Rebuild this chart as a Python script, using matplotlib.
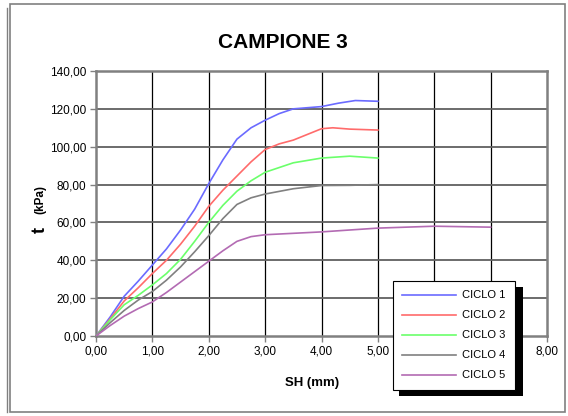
import matplotlib
matplotlib.use("Agg")
import matplotlib.pyplot as plt
from matplotlib.patches import Rectangle
from matplotlib.lines import Line2D
from matplotlib.ticker import FuncFormatter, MultipleLocator

plt.rcParams['font.family'] = ['Liberation Sans', 'DejaVu Sans']

# ---- data ----
x1 = [0, 0.25, 0.5, 0.75, 1.0, 1.25, 1.5, 1.75, 2.0, 2.25, 2.5, 2.75, 3.0, 3.25, 3.5, 4.0, 4.3, 4.6, 5.0]
y1 = [0, 10, 21, 29, 37.5, 46, 56, 67, 80.5, 93, 104, 110, 114, 117.5, 120, 121.2, 123, 124.4, 124]
x2 = [0, 0.25, 0.5, 0.75, 1.0, 1.25, 1.5, 1.75, 2.0, 2.25, 2.5, 2.75, 3.0, 3.25, 3.5, 3.75, 4.0, 4.2, 4.5, 5.0]
y2 = [0, 9, 18.5, 25.5, 33, 40, 48.5, 58, 68.5, 77, 84.5, 92, 98.5, 101.5, 103.5, 106.5, 109.5, 110, 109.3, 108.8]
x3 = [0, 0.25, 0.5, 0.75, 1.0, 1.25, 1.5, 1.75, 2.0, 2.25, 2.5, 2.75, 3.0, 3.5, 4.0, 4.5, 5.0]
y3 = [0, 8.5, 16.5, 21.5, 27, 33, 40.5, 50, 60, 69, 76.5, 82, 86.5, 91.5, 94, 95, 94]
x4 = [0, 0.25, 0.5, 0.75, 1.0, 1.25, 1.5, 1.75, 2.0, 2.25, 2.5, 2.75, 3.0, 3.5, 4.0, 4.5, 5.0]
y4 = [0, 7, 13.5, 19, 23.5, 29.5, 36.5, 44.5, 53, 62, 69.5, 73, 75, 77.8, 79.5, 79.6, 80]
x5 = [0, 0.25, 0.5, 0.75, 1.0, 1.25, 1.5, 1.75, 2.0, 2.25, 2.5, 2.75, 3.0, 4.0, 5.0, 6.0, 7.0]
y5 = [0, 5.5, 10.5, 14.5, 18, 23, 28.5, 34, 39.5, 45, 50, 52.5, 53.5, 55, 57, 58, 57.5]
series_labels = ["CICLO 1", "CICLO 2", "CICLO 3", "CICLO 4", "CICLO 5"]
series_colors = ["#6b6bff", "#ff6b6b", "#6bff6b", "#808080", "#b36bb3"]

fig = plt.figure(figsize=(5.68, 4.16), dpi=100)
W, H = 568, 416

# outer frame
fig.patches.append(Rectangle((10 / W, 4 / H), 555 / W, 408 / H, transform=fig.transFigure,
                             fill=False, edgecolor="#808080", lw=1.2))
fig.lines.append(Line2D([7 / W, 7 / W], [4 / H, 408 / H], transform=fig.transFigure,
                        color="#808080", lw=1.0))

ax = fig.add_axes([96 / W, 1 - 336 / H, (547 - 96) / W, (336 - 71) / H])

for xs, ys, lab, c in zip([x1, x2, x3, x4, x5], [y1, y2, y3, y4, y5], series_labels, series_colors):
    ax.plot(xs, ys, color=c, lw=1.2, label=lab, zorder=3)

ax.set_xlim(0, 8)
ax.set_ylim(0, 140)
ax.xaxis.set_major_locator(MultipleLocator(1))
ax.yaxis.set_major_locator(MultipleLocator(20))
fmt = FuncFormatter(lambda v, p: f"{v:.2f}".replace(".", ","))
ax.xaxis.set_major_formatter(fmt)
ax.yaxis.set_major_formatter(fmt)
ax.tick_params(labelsize=8.5, length=4, width=1, color="#808080", pad=3)

for xv in range(1, 8):
    ax.axvline(xv, color="black", lw=0.9, zorder=1)
for yv in range(20, 140, 20):
    ax.axhline(yv, color="#606060", lw=1.3, zorder=1)
for s in ax.spines.values():
    s.set_color("#808080")
    s.set_linewidth(1.8)

fig.text(283 / W, 1 - 42 / H, "CAMPIONE 3", ha="center", va="center", fontsize=15, fontweight="bold")
fig.text(312 / W, 1 - 383 / H, "SH (mm)", ha="center", va="center", fontsize=9.5, fontweight="bold")
fig.text(40 / W, 1 - 230 / H, "t", ha="center", va="center", fontsize=13, fontweight="bold", rotation=90)
fig.text(40 / W, 1 - 199 / H, "(kPa)", ha="center", va="center", fontsize=8.5, fontweight="bold", rotation=90)

leg = fig.legend(loc="upper left", bbox_to_anchor=(393 / W, 1 - 281 / H), fontsize=8,
                 frameon=True, fancybox=False, edgecolor="black", framealpha=1,
                 handlelength=4.8, handletextpad=0.6, labelspacing=0.9, borderpad=0.85,
                 borderaxespad=0)
leg.get_frame().set_linewidth(0.8)
leg.set_zorder(10)

fig.canvas.draw()
bb = leg.get_window_extent().transformed(fig.transFigure.inverted())
shadow = Rectangle((bb.x0 + 6 / W, bb.y0 - 6 / H), bb.width + 2 / W, bb.height, transform=fig.transFigure,
                   facecolor="black", edgecolor="none", zorder=9)
fig.patches.append(shadow)

fig.savefig("out.png", dpi=100)
